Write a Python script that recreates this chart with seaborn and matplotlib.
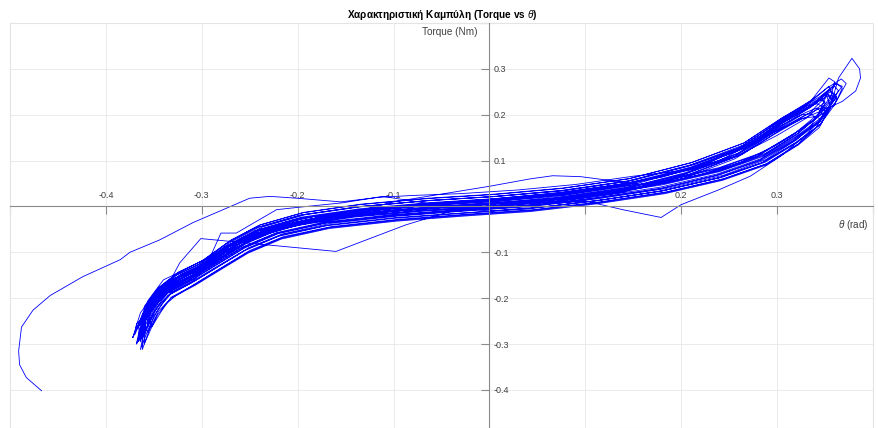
import matplotlib
matplotlib.use('Agg')
import matplotlib.pyplot as plt
import pandas as pd
import seaborn as sns
from matplotlib.patches import Rectangle

# Angle (rad) / torque (Nm) samples, in time order.
# start-up transient
tail_theta = [-0.467, -0.483, -0.490, -0.491, -0.488, -0.476, -0.458, -0.424, -0.385, -0.375, -0.344, -0.309, -0.250,
              -0.229, -0.201, -0.155, -0.115, -0.080, -0.030, 0.030, 0.090, 0.150, 0.210, 0.260, 0.300, 0.330, 0.350,
              0.345, 0.320, 0.285, 0.240, 0.180, 0.110, 0.040, -0.030, -0.100, -0.170, -0.225, -0.260, -0.290, -0.318,
              -0.340, -0.356]
tail_torque = [-0.402, -0.373, -0.345, -0.315, -0.263, -0.226, -0.194, -0.153, -0.116, -0.100, -0.073, -0.035, 0.018,
               0.022, 0.018, 0.010, 0.020, 0.024, 0.028, 0.036, 0.048, 0.066, 0.080, 0.112, 0.155, 0.192, 0.228,
               0.232, 0.196, 0.150, 0.100, 0.064, 0.038, 0.020, 0.008, -0.004, -0.020, -0.045, -0.074, -0.108, -0.138,
               -0.160, -0.205]

# one list pair per cycle (right-going branch, then left-going branch)
th_01 = [-0.366, -0.358, -0.348, -0.335, -0.310, -0.285, -0.255, -0.220, -0.170, -0.100, -0.030, 0.040, 0.110, 0.180,
         0.240, 0.285, 0.320, 0.345, 0.362, 0.355, 0.335, 0.305, 0.265, 0.210, 0.145, 0.075, 0.005, -0.065, -0.135,
         -0.195, -0.240, -0.270, -0.300, -0.325, -0.345, -0.358]
tq_01 = [-0.285, -0.245, -0.215, -0.188, -0.160, -0.128, -0.090, -0.059, -0.036, -0.020, -0.009, 0.001, 0.018, 0.040,
         0.069, 0.102, 0.146, 0.185, 0.240, 0.255, 0.217, 0.182, 0.127, 0.084, 0.049, 0.028, 0.015, 0.006, -0.007,
         -0.025, -0.052, -0.085, -0.130, -0.155, -0.188, -0.225]

th_02 = [-0.372, -0.364, -0.354, -0.337, -0.312, -0.287, -0.257, -0.222, -0.172, -0.102, -0.032, 0.038, 0.108, 0.178,
         0.238, 0.283, 0.318, 0.344, 0.368, 0.361, 0.338, 0.308, 0.268, 0.213, 0.148, 0.078, 0.008, -0.062, -0.132,
         -0.192, -0.237, -0.267, -0.297, -0.322, -0.342, -0.356]
tq_02 = [-0.286, -0.248, -0.205, -0.175, -0.147, -0.115, -0.077, -0.046, -0.023, -0.007, 0.004, 0.014, 0.031, 0.053,
         0.082, 0.115, 0.159, 0.198, 0.262, 0.268, 0.224, 0.189, 0.134, 0.091, 0.056, 0.035, 0.022, 0.013, 0.000,
         -0.018, -0.045, -0.078, -0.123, -0.148, -0.181, -0.218]

th_03 = [-0.360, -0.352, -0.342, -0.332, -0.307, -0.282, -0.252, -0.217, -0.167, -0.097, -0.027, 0.043, 0.113, 0.183,
         0.243, 0.288, 0.322, 0.340, 0.348, 0.342, 0.330, 0.300, 0.260, 0.205, 0.140, 0.070, 0.000, -0.070, -0.140,
         -0.200, -0.245, -0.275, -0.305, -0.330, -0.350, -0.362]
tq_03 = [-0.300, -0.262, -0.228, -0.198, -0.170, -0.138, -0.100, -0.069, -0.046, -0.030, -0.019, -0.009, 0.008, 0.030,
         0.059, 0.092, 0.136, 0.170, 0.200, 0.215, 0.205, 0.172, 0.117, 0.074, 0.039, 0.018, 0.005, -0.004, -0.017,
         -0.035, -0.062, -0.098, -0.145, -0.170, -0.205, -0.245]

th_04 = [-0.368, -0.370, -0.363, -0.352, -0.337, -0.312, -0.287, -0.257, -0.222, -0.172, -0.102, -0.032, 0.038, 0.108,
         0.178, 0.238, 0.283, 0.318, 0.344, 0.362, 0.372, 0.367, 0.352, 0.332, 0.302, 0.262, 0.207, 0.142, 0.072,
         0.002, -0.068, -0.138, -0.198, -0.243, -0.273, -0.303, -0.328, -0.348]
tq_04 = [-0.255, -0.280, -0.248, -0.218, -0.186, -0.158, -0.126, -0.088, -0.057, -0.034, -0.018, -0.007, 0.003, 0.020,
         0.042, 0.071, 0.104, 0.148, 0.187, 0.230, 0.268, 0.278, 0.258, 0.226, 0.186, 0.128, 0.088, 0.054, 0.033,
         0.021, 0.012, -0.001, -0.019, -0.046, -0.079, -0.126, -0.151, -0.184]

th_05 = [-0.356, -0.349, -0.340, -0.330, -0.306, -0.281, -0.251, -0.216, -0.166, -0.096, -0.026, 0.044, 0.114, 0.184,
         0.244, 0.288, 0.320, 0.334, 0.340, 0.336, 0.326, 0.298, 0.258, 0.203, 0.138, 0.068, -0.002, -0.072, -0.142,
         -0.202, -0.247, -0.277, -0.307, -0.332, -0.350]
tq_05 = [-0.262, -0.228, -0.205, -0.185, -0.158, -0.127, -0.090, -0.060, -0.037, -0.021, -0.010, 0.000, 0.017, 0.039,
         0.068, 0.102, 0.145, 0.172, 0.192, 0.202, 0.200, 0.165, 0.114, 0.070, 0.038, 0.018, 0.005, -0.004, -0.016,
         -0.034, -0.061, -0.094, -0.142, -0.167, -0.200]

th_06 = [-0.364, -0.358, -0.348, -0.335, -0.310, -0.285, -0.255, -0.220, -0.170, -0.100, -0.030, 0.040, 0.110, 0.180,
         0.240, 0.285, 0.320, 0.342, 0.356, 0.360, 0.354, 0.336, 0.306, 0.266, 0.211, 0.146, 0.076, 0.006, -0.064,
         -0.134, -0.194, -0.239, -0.269, -0.299, -0.324, -0.344, -0.356]
tq_06 = [-0.295, -0.245, -0.200, -0.172, -0.144, -0.112, -0.074, -0.043, -0.020, -0.004, 0.007, 0.017, 0.034, 0.056,
         0.085, 0.118, 0.162, 0.200, 0.240, 0.272, 0.280, 0.232, 0.194, 0.139, 0.096, 0.061, 0.040, 0.027, 0.018,
         0.005, -0.013, -0.040, -0.073, -0.118, -0.143, -0.176, -0.212]

th_07 = [-0.362, -0.355, -0.345, -0.332, -0.307, -0.282, -0.252, -0.217, -0.167, -0.097, -0.027, 0.043, 0.113, 0.183,
         0.243, 0.288, 0.322, 0.344, 0.352, 0.346, 0.330, 0.300, 0.260, 0.205, 0.140, 0.070, 0.000, -0.070, -0.140,
         -0.200, -0.245, -0.275, -0.305, -0.330, -0.350, -0.362]
tq_07 = [-0.312, -0.270, -0.228, -0.200, -0.172, -0.140, -0.102, -0.071, -0.048, -0.032, -0.021, -0.011, 0.006, 0.028,
         0.057, 0.090, 0.134, 0.172, 0.205, 0.215, 0.200, 0.166, 0.111, 0.066, 0.033, 0.012, -0.001, -0.010, -0.023,
         -0.041, -0.068, -0.101, -0.146, -0.171, -0.206, -0.250]

th_08 = [-0.366, -0.358, -0.346, -0.335, -0.323, -0.301, -0.200, -0.160, -0.087, -0.030, 0.040, 0.110, 0.180, 0.240,
         0.285, 0.320, 0.345, 0.362, 0.356, 0.335, 0.305, 0.265, 0.210, 0.145, 0.075, 0.005, -0.065, -0.135, -0.195,
         -0.240, -0.270, -0.300, -0.325, -0.345, -0.358]
tq_08 = [-0.295, -0.245, -0.205, -0.170, -0.123, -0.070, -0.090, -0.098, -0.040, -0.004, 0.008, 0.025, 0.047, 0.076,
         0.109, 0.153, 0.192, 0.238, 0.250, 0.224, 0.189, 0.134, 0.091, 0.056, 0.035, 0.022, 0.013, 0.000, -0.018,
         -0.045, -0.078, -0.123, -0.148, -0.181, -0.218]

th_09 = [-0.362, -0.355, -0.345, -0.333, -0.310, -0.295, -0.280, -0.264, -0.222, -0.200, -0.153, -0.111, -0.060, 0.000,
         0.060, 0.120, 0.180, 0.240, 0.285, 0.320, 0.345, 0.356, 0.352, 0.335, 0.305, 0.265, 0.210, 0.145, 0.075,
         0.005, -0.065, -0.135, -0.195, -0.240, -0.270, -0.300, -0.325, -0.345, -0.360]
tq_09 = [-0.288, -0.250, -0.215, -0.190, -0.165, -0.128, -0.058, -0.058, -0.007, -0.002, 0.008, 0.022, 0.005, -0.010,
         0.000, 0.015, 0.034, 0.063, 0.096, 0.140, 0.179, 0.215, 0.240, 0.219, 0.184, 0.129, 0.086, 0.051, 0.030,
         0.017, 0.008, -0.005, -0.023, -0.050, -0.083, -0.128, -0.153, -0.186, -0.232]

th_10 = [-0.356, -0.350, -0.341, -0.332, -0.307, -0.282, -0.252, -0.217, -0.167, -0.097, -0.027, 0.043, 0.113, 0.183,
         0.243, 0.288, 0.322, 0.346, 0.357, 0.364, 0.378, 0.386, 0.387, 0.382, 0.368, 0.348, 0.325, 0.295, 0.255,
         0.205, 0.140, 0.070, 0.000, -0.070, -0.140, -0.200, -0.245, -0.275, -0.305, -0.330, -0.350, -0.362]
tq_10 = [-0.275, -0.238, -0.212, -0.190, -0.162, -0.130, -0.092, -0.062, -0.040, -0.024, -0.014, -0.004, 0.013, 0.035,
         0.064, 0.097, 0.141, 0.180, 0.228, 0.280, 0.323, 0.300, 0.280, 0.252, 0.229, 0.210, 0.190, 0.160, 0.108,
         0.072, 0.038, 0.017, 0.004, -0.005, -0.018, -0.036, -0.063, -0.096, -0.141, -0.166, -0.200, -0.240]

th_11 = [-0.368, -0.361, -0.351, -0.337, -0.312, -0.287, -0.257, -0.222, -0.172, -0.100, 0.000, 0.042, 0.066, 0.095,
         0.165, 0.215, 0.262, 0.300, 0.330, 0.352, 0.364, 0.360, 0.340, 0.310, 0.270, 0.215, 0.150, 0.080, 0.010,
         -0.060, -0.130, -0.190, -0.238, -0.268, -0.298, -0.323, -0.343, -0.357]
tq_11 = [-0.300, -0.255, -0.210, -0.180, -0.152, -0.120, -0.082, -0.052, -0.029, 0.010, 0.044, 0.060, 0.067, 0.065,
         0.046, 0.066, 0.096, 0.135, 0.175, 0.210, 0.252, 0.262, 0.224, 0.188, 0.132, 0.085, 0.048, 0.026, 0.012,
         0.003, -0.010, -0.028, -0.055, -0.088, -0.133, -0.158, -0.191, -0.228]

th_12 = [-0.364, -0.357, -0.347, -0.335, -0.310, -0.285, -0.255, -0.220, -0.170, -0.100, -0.030, 0.039, 0.100, 0.139,
         0.179, 0.200, 0.240, 0.272, 0.304, 0.330, 0.348, 0.358, 0.352, 0.335, 0.305, 0.265, 0.210, 0.145, 0.075,
         0.005, -0.065, -0.135, -0.195, -0.240, -0.270, -0.300, -0.325, -0.345, -0.358]
tq_12 = [-0.292, -0.250, -0.212, -0.187, -0.159, -0.127, -0.089, -0.058, -0.035, -0.019, -0.008, 0.002, 0.012, -0.007,
         -0.024, 0.004, 0.037, 0.066, 0.110, 0.156, 0.196, 0.232, 0.246, 0.216, 0.181, 0.126, 0.083, 0.048, 0.027,
         0.014, 0.005, -0.008, -0.026, -0.053, -0.086, -0.131, -0.156, -0.189, -0.226]

th_13 = [-0.360, -0.353, -0.344, -0.333, -0.308, -0.283, -0.253, -0.218, -0.168, -0.098, -0.028, 0.042, 0.112, 0.182,
         0.242, 0.286, 0.320, 0.342, 0.352, 0.362, 0.360, 0.350, 0.342, 0.332, 0.308, 0.274, 0.226, 0.164, 0.094,
         0.024, -0.046, -0.116, -0.180, -0.230, -0.262, -0.292, -0.318, -0.340, -0.356]
tq_13 = [-0.282, -0.240, -0.205, -0.178, -0.150, -0.118, -0.080, -0.049, -0.026, -0.010, 0.001, 0.011, 0.028, 0.050,
         0.079, 0.112, 0.156, 0.195, 0.245, 0.236, 0.220, 0.214, 0.224, 0.220, 0.190, 0.140, 0.092, 0.058, 0.034,
         0.018, 0.008, -0.004, -0.020, -0.046, -0.078, -0.122, -0.146, -0.180, -0.218]

th_14 = [-0.352, -0.346, -0.338, -0.328, -0.305, -0.280, -0.250, -0.215, -0.165, -0.095, -0.025, 0.045, 0.115, 0.185,
         0.245, 0.290, 0.322, 0.340, 0.346, 0.340, 0.326, 0.296, 0.256, 0.201, 0.136, 0.066, -0.004, -0.074, -0.144,
         -0.204, -0.249, -0.279, -0.309, -0.334, -0.352, -0.366]
tq_14 = [-0.262, -0.236, -0.214, -0.196, -0.166, -0.134, -0.096, -0.066, -0.044, -0.028, -0.017, -0.007, 0.010, 0.032,
         0.061, 0.094, 0.136, 0.170, 0.190, 0.196, 0.192, 0.156, 0.104, 0.060, 0.030, 0.010, -0.001, -0.010, -0.022,
         -0.040, -0.068, -0.101, -0.148, -0.173, -0.208, -0.262]

th_15 = [-0.366, -0.356, -0.350, -0.345, -0.330, -0.340, -0.318, -0.290, -0.260, -0.225, -0.175, -0.105, -0.035, 0.035,
         0.105, 0.175, 0.235, 0.280, 0.316, 0.340, 0.358, 0.354, 0.335, 0.305, 0.265, 0.210, 0.145, 0.075, 0.005,
         -0.065, -0.135, -0.195, -0.240, -0.270, -0.300, -0.325, -0.345, -0.360]
tq_15 = [-0.280, -0.232, -0.190, -0.188, -0.188, -0.170, -0.150, -0.118, -0.081, -0.050, -0.027, -0.011, 0.000, 0.010,
         0.026, 0.048, 0.076, 0.110, 0.155, 0.192, 0.240, 0.262, 0.228, 0.193, 0.138, 0.095, 0.060, 0.039, 0.026,
         0.017, 0.004, -0.014, -0.041, -0.074, -0.119, -0.144, -0.177, -0.218]

th_16 = [-0.362, -0.364, -0.356, -0.346, -0.335, -0.310, -0.285, -0.255, -0.220, -0.170, -0.100, -0.030, 0.040, 0.110,
         0.180, 0.240, 0.285, 0.320, 0.345, 0.360, 0.368, 0.362, 0.345, 0.325, 0.296, 0.256, 0.206, 0.141, 0.071,
         0.001, -0.069, -0.139, -0.199, -0.244, -0.274, -0.304, -0.329, -0.349, -0.364, -0.372]
tq_16 = [-0.290, -0.312, -0.268, -0.226, -0.194, -0.166, -0.134, -0.096, -0.065, -0.042, -0.026, -0.015, -0.005, 0.012,
         0.034, 0.063, 0.096, 0.140, 0.179, 0.222, 0.258, 0.268, 0.240, 0.214, 0.176, 0.122, 0.078, 0.050, 0.030,
         0.016, 0.006, -0.008, -0.026, -0.053, -0.086, -0.132, -0.157, -0.190, -0.232, -0.286]

th_17 = [-0.358, -0.351, -0.342, -0.331, -0.306, -0.281, -0.251, -0.216, -0.166, -0.096, -0.026, 0.044, 0.114, 0.184,
         0.244, 0.288, 0.322, 0.342, 0.350, 0.346, 0.330, 0.300, 0.260, 0.205, 0.140, 0.070, 0.000, -0.070, -0.140,
         -0.200, -0.245, -0.275, -0.305, -0.330, -0.350, -0.362]
tq_17 = [-0.270, -0.236, -0.205, -0.178, -0.148, -0.115, -0.076, -0.046, -0.023, -0.008, 0.003, 0.013, 0.030, 0.052,
         0.082, 0.116, 0.160, 0.195, 0.225, 0.238, 0.212, 0.178, 0.122, 0.080, 0.047, 0.026, 0.013, 0.004, -0.009,
         -0.027, -0.054, -0.088, -0.134, -0.160, -0.195, -0.236]

th_18 = [-0.368, -0.361, -0.352, -0.338, -0.313, -0.288, -0.258, -0.223, -0.173, -0.103, -0.033, 0.037, 0.107, 0.177,
         0.237, 0.282, 0.317, 0.343, 0.358, 0.352, 0.334, 0.304, 0.264, 0.209, 0.144, 0.074, 0.004, -0.066, -0.136,
         -0.196, -0.241, -0.271, -0.301, -0.326, -0.346, -0.360]
tq_18 = [-0.298, -0.258, -0.220, -0.190, -0.160, -0.128, -0.090, -0.059, -0.036, -0.021, -0.010, 0.000, 0.017, 0.038,
         0.068, 0.101, 0.144, 0.184, 0.232, 0.242, 0.204, 0.168, 0.114, 0.071, 0.036, 0.015, 0.002, -0.007, -0.020,
         -0.038, -0.065, -0.098, -0.143, -0.168, -0.201, -0.245]

x_ticks = [-0.5, -0.4, -0.3, -0.2, -0.1, 0.0, 0.1, 0.2, 0.3, 0.4]
x_labels = ['', '-0.4', '-0.3', '-0.2', '-0.1', '', '0.1', '0.2', '0.3', '']
y_ticks = [-0.4, -0.3, -0.2, -0.1, 0.0, 0.1, 0.2, 0.3, 0.4]
y_labels = ['-0.4', '-0.3', '-0.2', '-0.1', '', '0.1', '0.2', '0.3', '']

segments = [(tail_theta, tail_torque), (th_02, tq_02), (th_01, tq_01), (th_03, tq_03), (th_04, tq_04),
            (th_08, tq_08), (th_05, tq_05), (th_17, tq_17), (th_06, tq_06), (th_09, tq_09), (th_07, tq_07),
            (th_10, tq_10), (th_18, tq_18), (th_11, tq_11), (th_14, tq_14), (th_12, tq_12), (th_15, tq_15),
            (th_13, tq_13), (th_16, tq_16)]
df = pd.concat([pd.DataFrame({'theta': t, 'torque': q}) for t, q in segments], ignore_index=True)

sns.set_style('white')
plt.rcParams['font.family'] = ['Liberation Sans', 'DejaVu Sans']
plt.rcParams['mathtext.fontset'] = 'custom'
plt.rcParams['mathtext.it'] = 'Liberation Sans:italic'
plt.rcParams['mathtext.rm'] = 'Liberation Sans'

fig = plt.figure(figsize=(8.79, 4.28), dpi=100)
ax = fig.add_axes([10 / 879, 0, 863 / 879, 405 / 428])

sns.lineplot(data=df, x='theta', y='torque', sort=False, estimator=None,
             color='blue', lw=0.6, ax=ax)

ax.set_xlim(-0.5, 0.4)
ax.set_ylim(-0.483, 0.4)
ax.set_xlabel('')
ax.set_ylabel('')

# axes crossing at the origin
ax.spines['top'].set_position(('data', 0))
ax.spines['right'].set_position(('data', 0))
ax.spines['left'].set_visible(False)
ax.spines['bottom'].set_visible(False)
for s in ['top', 'right']:
    ax.spines[s].set_color('#8a8a8a')
    ax.spines[s].set_linewidth(0.8)
ax.xaxis.set_ticks_position('top')
ax.yaxis.set_ticks_position('right')
ax.set_xticks(x_ticks)
ax.set_xticklabels(x_labels)
ax.set_yticks(y_ticks)
ax.set_yticklabels(y_labels)
ax.tick_params(axis='x', direction='in', length=6, width=0.8, color='#8a8a8a',
               labelsize=6.5, labelcolor='#404040', pad=5)
ax.tick_params(axis='y', direction='in', length=6, width=0.8, color='#8a8a8a',
               labelsize=6.5, labelcolor='#404040', pad=3)

ax.grid(True, color='#e8e8e8', lw=0.6)
ax.set_axisbelow(True)
ax.add_patch(Rectangle((0, 0), 1, 1, transform=ax.transAxes, fill=False,
                       edgecolor='#e4e4e4', lw=0.8, clip_on=False))

ax.text(-0.012, 0.381, 'Torque (Nm)', ha='right', va='center', fontsize=7.2, color='#404040')
ax.text(0.396, -0.04, r'$\theta$ (rad)', ha='right', va='center', fontsize=7.2, color='#404040')
fig.text(0.503, 1 - 15 / 428, r'Χαρακτηριστική Καμπύλη (Torque vs $\theta$)', ha='center', va='center',
         fontsize=7.2, fontweight='bold', color='black')

fig.savefig('out.png', dpi=100)
